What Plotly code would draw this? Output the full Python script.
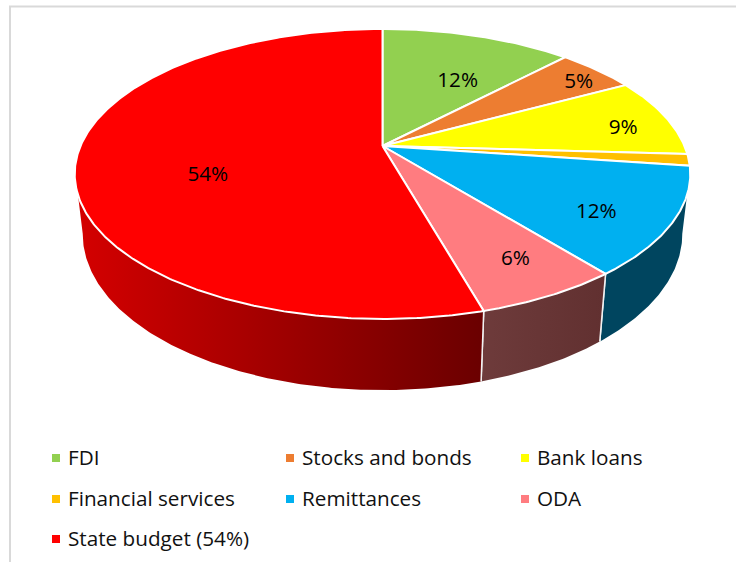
import numpy as np
import plotly.graph_objects as go

categories = ["FDI", "Stocks and bonds", "Bank loans", "Financial services",
              "Remittances", "ODA", "State budget (54%)"]
values = [12.1, 5.0, 8.8, 1.3, 12.0, 6.4, 54.4]
top_colors = ["#92D050", "#ED7D31", "#FFFF00", "#FFC000", "#00B0F0", "#FF7C80", "#FF0000"]
label_text = ["12%", "5%", "9%", "", "12%", "6%", "54%"]
side_colors = {
    "Remittances": ["#00455F", "#00455F"],
    "ODA": ["#6E3B3B", "#613030"],
    "State budget (54%)": ["#D40000", "#6A0000"],
}

# perspective model of the pie, in page pixels
CX, CY, AX, BY, C = 382.5, 146.0, 302.0, 139.6, -0.193
LOW_CY, LOW_SX, LOW_SY = 204.0, 0.974, 1.076
SIL_TOP, SIL_LOW = 109.2, 101.0  # clockwise angle of the visible rim limit
LABEL_DY = 2.5
FONT = "Open Sans"

def project(theta_deg, low=False):
    t = np.radians(theta_deg)
    X, Y = np.sin(t), -np.cos(t)
    w = 1 + C * Y
    sx, sy, cy = (LOW_SX, LOW_SY, LOW_CY) if low else (1.0, 1.0, CY)
    return CX + sx * AX * X / w, cy + sy * BY * Y / w

def arc(a, b, low=False):
    n = max(int(abs(b - a)) * 2, 8)
    return project(np.linspace(a, b, n), low)

fig = go.Figure()
bounds = np.concatenate([[0], np.cumsum(values)]) / sum(values) * 360

# rim
for i, name in enumerate(categories):
    if name not in side_colors:
        continue
    a, b = bounds[i], bounds[i + 1]
    ta, tb = max(a, SIL_TOP), min(b, 360 - SIL_TOP)
    la, lb = max(a, SIL_LOW), min(b, 360 - SIL_LOW)
    xt, yt = arc(ta, tb)
    xl, yl = arc(la, lb, True)
    x = np.concatenate([xt, xl[::-1], xt[:1]])
    y = np.concatenate([yt, yl[::-1], yt[:1]])
    left, right = side_colors[name]
    fig.add_trace(go.Scatter(
        x=x, y=y, mode="lines", fill="toself",
        line=dict(color="white", width=0),
        fillgradient=dict(type="horizontal", colorscale=[[0, left], [1, right]]),
        hoverinfo="skip", showlegend=False))
    for th in (a, b):
        if SIL_TOP < th < 360 - SIL_TOP:
            xa, ya = project(th)
            xb, yb = project(th, True)
            fig.add_trace(go.Scatter(x=[xa, xb], y=[ya, yb], mode="lines",
                                     line=dict(color="#F2F2F2", width=1.5),
                                     hoverinfo="skip", showlegend=False))

# top face
for i, name in enumerate(categories):
    xa, ya = arc(bounds[i], bounds[i + 1])
    x = np.concatenate([[CX], xa, [CX]])
    y = np.concatenate([[CY], ya, [CY]])
    fig.add_trace(go.Scatter(x=x, y=y, mode="lines", fill="toself", fillcolor=top_colors[i],
                             line=dict(color="white", width=2), name=name,
                             hovertemplate=f"{name}: {values[i]}%<extra></extra>",
                             showlegend=False))

# value labels: (radius fraction, angle shift from slice middle)
label_pos = {"FDI": (0.596, 5.6), "Stocks and bonds": (0.88, 1.7), "Bank loans": (0.833, 2.4),
             "Remittances": (0.775, 3.4), "ODA": (0.788, -1.6), "State budget (54%)": (0.589, -11.0)}
lx, ly, lt = [], [], []
for i, name in enumerate(categories):
    if not label_text[i]:
        continue
    r, d = label_pos[name]
    t = np.radians((bounds[i] + bounds[i + 1]) / 2 + d)
    X, Y = r * np.sin(t), -r * np.cos(t)
    w = 1 + C * Y
    lx.append(CX + AX * X / w)
    ly.append(CY + BY * Y / w + LABEL_DY)
    lt.append(label_text[i])
fig.add_trace(go.Scatter(x=lx, y=ly, mode="text", text=lt,
                         textfont=dict(family=FONT, size=20.7, color="black"),
                         hoverinfo="skip", showlegend=False))

# legend, laid out as three columns
col_x = [56, 290, 525]
row_y = [458, 499, 539]
lg_x = [col_x[i % 3] for i in range(len(categories))]
lg_y = [row_y[i // 3] for i in range(len(categories))]
fig.add_trace(go.Scatter(x=lg_x, y=lg_y, mode="markers",
                         marker=dict(symbol="square", size=8, color=top_colors, line=dict(width=0)),
                         hoverinfo="skip", showlegend=False))
annotations = [dict(x=px + 10, y=py - 1, text=name, xref="x", yref="y", xanchor="left", yanchor="middle",
                    showarrow=False, font=dict(family=FONT, size=20.7, color="#111111"))
               for name, px, py in zip(categories, lg_x, lg_y)]

shapes = [
    dict(type="line", xref="x", yref="y", x0=10, x1=10, y0=6, y1=562, line=dict(color="#D9D9D9", width=2)),
    dict(type="line", xref="x", yref="y", x0=9, x1=736, y0=6.5, y1=6.5, line=dict(color="#D9D9D9", width=2)),
]

fig.update_layout(
    width=736, height=562, margin=dict(l=0, r=0, t=0, b=0),
    paper_bgcolor="white", plot_bgcolor="white", showlegend=False,
    xaxis=dict(range=[0, 736], visible=False, fixedrange=True),
    yaxis=dict(range=[562, 0], visible=False, fixedrange=True),
    shapes=shapes, annotations=annotations,
)
fig.write_html("out.html", config={"displayModeBar": False},
               post_script="document.body.style.margin='0';document.body.style.overflow='hidden';")
